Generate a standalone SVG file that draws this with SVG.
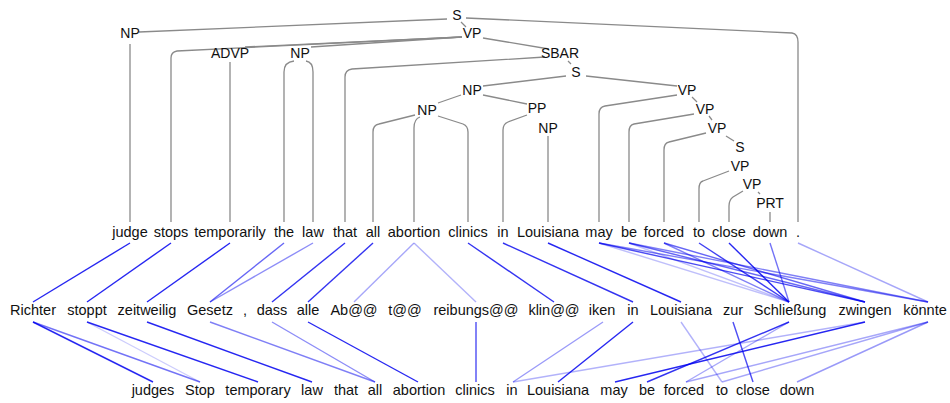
<svg xmlns="http://www.w3.org/2000/svg" width="950" height="403" viewBox="0 0 950 403">
  <style>
    text { font-family: "Liberation Sans", Arial, sans-serif; fill: #111; }
    .lbl { font-size: 14px; text-anchor: middle; }
    .w { font-size: 14.5px; text-anchor: middle; }
    .tr { fill: none; stroke: #8a8a8a; stroke-width: 1.3; }
    .al { fill: none; stroke: #0000ee; stroke-width: 1.4; }
  </style>
  <rect width="950" height="403" fill="#fff"/>

  <!-- parse tree edges -->
  <g id="tree-edges" class="tr">
    <path d="M447,19 L139,32"/>
    <path d="M466,18 L792,33 Q798,34 798,42 L798,222"/>
    <path d="M461,22 L466,27"/>
    <path d="M130,44 L130,222"/>
    <path d="M462,37 L177,51 Q171,52 171,58 L171,222"/>
    <path d="M462,37 L245,47"/>
    <path d="M462,37 L311,47"/>
    <path d="M230,62 L230,222"/>
    <path d="M294,61 Q284,62 284,72 L284,222"/>
    <path d="M306,61 Q313,62 313,72 L313,222"/>
    <path d="M483,38 L549,49"/>
    <path d="M545,57 L352,69 Q345,70 345,77 L345,222"/>
    <path d="M568,61 L571,64"/>
    <path d="M566,76 L483,86"/>
    <path d="M586,76 L677,86"/>
    <path d="M461,95 L438,103"/>
    <path d="M483,95 L527,104"/>
    <path d="M415,115 L379,124 Q373,125 373,132 L373,222"/>
    <path d="M420,117 Q414,119 414,128 L414,222"/>
    <path d="M438,116 L463,124 Q468,126 468,132 L468,222"/>
    <path d="M527,115 L508,122 Q503,124 503,130 L503,222"/>
    <path d="M548,136 L548,222"/>
    <path d="M677,95 L605,106 Q599,107 599,114 L599,222"/>
    <path d="M692,97 L697,102"/>
    <path d="M694,114 L634,124 Q629,125 629,132 L629,222"/>
    <path d="M709,116 L712,120"/>
    <path d="M706,133 L669,142 Q664,143 664,150 L664,222"/>
    <path d="M726,136 L734,141"/>
    <path d="M729,171 L703,181 Q699,182 699,189 L699,222"/>
    <path d="M743,191 L733,197 Q729,200 729,206 L729,222"/>
    <path d="M758,192 L760,194"/>
    <path d="M770,212 L770,222"/>
  </g>

  <!-- attention links: source words to German tokens -->
  <g id="links-upper" class="al">
    <path d="M130,243 L33,302" stroke-opacity="0.85"/>
    <path d="M171,243 L87,302" stroke-opacity="0.85"/>
    <path d="M230,243 L147,302" stroke-opacity="0.85"/>
    <path d="M284,243 L210,302" stroke-opacity="0.6"/>
    <path d="M313,243 L210,302" stroke-opacity="0.45"/>
    <path d="M345,243 L272,302" stroke-opacity="0.8"/>
    <path d="M373,243 L308,302" stroke-opacity="0.8"/>
    <path d="M414,243 L354,302" stroke-opacity="0.35"/>
    <path d="M414,243 L476,302" stroke-opacity="0.3"/>
    <path d="M468,243 L554,302" stroke-opacity="0.8"/>
    <path d="M503,243 L633,302" stroke-opacity="0.8"/>
    <path d="M548,243 L681,302" stroke-opacity="0.85"/>
    <path d="M599,243 L865,302" stroke-opacity="0.7"/>
    <path d="M599,243 L928,302" stroke-opacity="0.5"/>
    <path d="M599,243 L789,302" stroke-opacity="0.25"/>
    <path d="M629,243 L865,302" stroke-opacity="0.6"/>
    <path d="M629,243 L928,302" stroke-opacity="0.5"/>
    <path d="M629,243 L789,302" stroke-opacity="0.25"/>
    <path d="M664,243 L865,302" stroke-opacity="0.6"/>
    <path d="M664,243 L789,302" stroke-opacity="0.5"/>
    <path d="M699,243 L789,302" stroke-opacity="0.75"/>
    <path d="M729,243 L789,302" stroke-opacity="0.85"/>
    <path d="M770,243 L789,302" stroke-opacity="0.55"/>
    <path d="M798,243 L928,302" stroke-opacity="0.35"/>
  </g>

  <!-- attention links: German tokens to output words -->
  <g id="links-lower" class="al">
    <path d="M33,322 L153,382" stroke-opacity="0.85"/>
    <path d="M33,322 L200,382" stroke-opacity="0.55"/>
    <path d="M87,322 L200,382" stroke-opacity="0.2"/>
    <path d="M87,322 L258,382" stroke-opacity="0.85"/>
    <path d="M147,322 L312,382" stroke-opacity="0.85"/>
    <path d="M210,322 L375,382" stroke-opacity="0.5"/>
    <path d="M272,322 L375,382" stroke-opacity="0.45"/>
    <path d="M308,322 L418,382" stroke-opacity="0.85"/>
    <path d="M476,322 L476,382" stroke-opacity="0.7"/>
    <path d="M603,322 L513,382" stroke-opacity="0.4"/>
    <path d="M633,322 L558,382" stroke-opacity="0.85"/>
    <path d="M681,322 L722,382" stroke-opacity="0.3"/>
    <path d="M733,322 L753,382" stroke-opacity="0.7"/>
    <path d="M789,322 L647,382" stroke-opacity="0.8"/>
    <path d="M789,322 L686,382" stroke-opacity="0.35"/>
    <path d="M865,322 L615,382" stroke-opacity="0.85"/>
    <path d="M865,322 L513,382" stroke-opacity="0.3"/>
    <path d="M928,322 L686,382" stroke-opacity="0.35"/>
    <path d="M928,322 L722,382" stroke-opacity="0.35"/>
    <path d="M928,322 L797,382" stroke-opacity="0.4"/>
  </g>

  <!-- tree labels -->
  <g id="n-S"><text class="lbl" x="457" y="20">S</text></g>
  <g id="n-NP1"><text class="lbl" x="130" y="38">NP</text></g>
  <g id="n-VP1"><text class="lbl" x="472" y="38">VP</text></g>
  <g id="n-ADVP"><text class="lbl" x="230" y="58">ADVP</text></g>
  <g id="n-NP2"><text class="lbl" x="300" y="58">NP</text></g>
  <g id="n-SBAR"><text class="lbl" x="560" y="58">SBAR</text></g>
  <g id="n-S2"><text class="lbl" x="576" y="77">S</text></g>
  <g id="n-NP3"><text class="lbl" x="472" y="95">NP</text></g>
  <g id="n-VP2"><text class="lbl" x="687" y="95">VP</text></g>
  <g id="n-NP4"><text class="lbl" x="427" y="115">NP</text></g>
  <g id="n-PP"><text class="lbl" x="537" y="113">PP</text></g>
  <g id="n-VP3"><text class="lbl" x="705" y="114">VP</text></g>
  <g id="n-NP5"><text class="lbl" x="548" y="133">NP</text></g>
  <g id="n-VP4"><text class="lbl" x="717" y="133">VP</text></g>
  <g id="n-S3"><text class="lbl" x="740" y="152">S</text></g>
  <g id="n-VP5"><text class="lbl" x="740" y="171">VP</text></g>
  <g id="n-VP6"><text class="lbl" x="752" y="189">VP</text></g>
  <g id="n-PRT"><text class="lbl" x="770" y="208">PRT</text></g>

  <!-- source sentence -->
  <g id="src">
    <g id="s-judge"><text class="w" x="130" y="237">judge</text></g>
    <g id="s-stops"><text class="w" x="171" y="237">stops</text></g>
    <g id="s-temporarily"><text class="w" x="230" y="237">temporarily</text></g>
    <g id="s-the"><text class="w" x="284" y="237">the</text></g>
    <g id="s-law"><text class="w" x="313" y="237">law</text></g>
    <g id="s-that"><text class="w" x="345" y="237">that</text></g>
    <g id="s-all"><text class="w" x="373" y="237">all</text></g>
    <g id="s-abortion"><text class="w" x="414" y="237">abortion</text></g>
    <g id="s-clinics"><text class="w" x="468" y="237">clinics</text></g>
    <g id="s-in"><text class="w" x="503" y="237">in</text></g>
    <g id="s-Louisiana"><text class="w" x="548" y="237">Louisiana</text></g>
    <g id="s-may"><text class="w" x="599" y="237">may</text></g>
    <g id="s-be"><text class="w" x="629" y="237">be</text></g>
    <g id="s-forced"><text class="w" x="664" y="237">forced</text></g>
    <g id="s-to"><text class="w" x="699" y="237">to</text></g>
    <g id="s-close"><text class="w" x="729" y="237">close</text></g>
    <g id="s-down"><text class="w" x="770" y="237">down</text></g>
    <g id="s-period"><text class="w" x="798" y="237">.</text></g>
  </g>

  <!-- German subword tokens -->
  <g id="de">
    <g id="d-Richter"><text class="w" x="33" y="315">Richter</text></g>
    <g id="d-stoppt"><text class="w" x="87" y="315">stoppt</text></g>
    <g id="d-zeitweilig"><text class="w" x="147" y="315">zeitweilig</text></g>
    <g id="d-Gesetz"><text class="w" x="210" y="315">Gesetz</text></g>
    <g id="d-comma"><text class="w" x="245" y="315">,</text></g>
    <g id="d-dass"><text class="w" x="272" y="315">dass</text></g>
    <g id="d-alle"><text class="w" x="308" y="315">alle</text></g>
    <g id="d-Ab"><text class="w" x="354" y="315">Ab@@</text></g>
    <g id="d-t"><text class="w" x="405" y="315">t@@</text></g>
    <g id="d-reibungs"><text class="w" x="476" y="315">reibungs@@</text></g>
    <g id="d-klin"><text class="w" x="554" y="315">klin@@</text></g>
    <g id="d-iken"><text class="w" x="602" y="315">iken</text></g>
    <g id="d-in"><text class="w" x="633" y="315">in</text></g>
    <g id="d-Louisiana"><text class="w" x="681" y="315">Louisiana</text></g>
    <g id="d-zur"><text class="w" x="733" y="315">zur</text></g>
    <g id="d-Schliessung"><text class="w" x="790" y="315">Schließung</text></g>
    <g id="d-zwingen"><text class="w" x="865" y="315">zwingen</text></g>
    <g id="d-koennte"><text class="w" x="925" y="315">könnte</text></g>
  </g>

  <!-- output sentence -->
  <g id="out">
    <g id="o-judges"><text class="w" x="153" y="395">judges</text></g>
    <g id="o-Stop"><text class="w" x="200" y="395">Stop</text></g>
    <g id="o-temporary"><text class="w" x="258" y="395">temporary</text></g>
    <g id="o-law"><text class="w" x="312" y="395">law</text></g>
    <g id="o-that"><text class="w" x="346" y="395">that</text></g>
    <g id="o-all"><text class="w" x="375" y="395">all</text></g>
    <g id="o-abortion"><text class="w" x="419" y="395">abortion</text></g>
    <g id="o-clinics"><text class="w" x="475" y="395">clinics</text></g>
    <g id="o-in"><text class="w" x="512" y="395">in</text></g>
    <g id="o-Louisiana"><text class="w" x="558" y="395">Louisiana</text></g>
    <g id="o-may"><text class="w" x="614" y="395">may</text></g>
    <g id="o-be"><text class="w" x="647" y="395">be</text></g>
    <g id="o-forced"><text class="w" x="684" y="395">forced</text></g>
    <g id="o-to"><text class="w" x="722" y="395">to</text></g>
    <g id="o-close"><text class="w" x="753" y="395">close</text></g>
    <g id="o-down"><text class="w" x="797" y="395">down</text></g>
  </g>
</svg>
